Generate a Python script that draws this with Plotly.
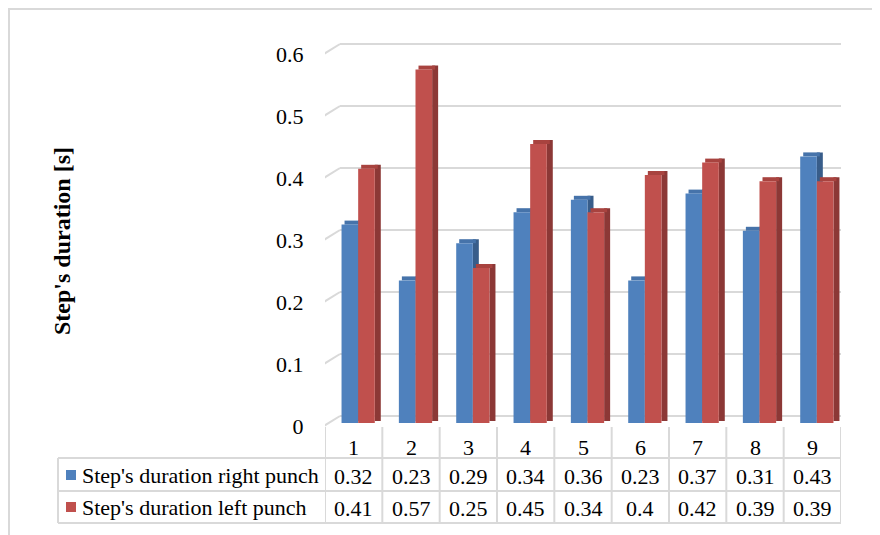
import plotly.graph_objects as go

# ---------------- data ----------------
categories = [1, 2, 3, 4, 5, 6, 7, 8, 9]
right_punch = [0.32, 0.23, 0.29, 0.34, 0.36, 0.23, 0.37, 0.31, 0.43]
left_punch = [0.41, 0.57, 0.25, 0.45, 0.34, 0.40, 0.42, 0.39, 0.39]
right_text = ["0.32", "0.23", "0.29", "0.34", "0.36", "0.23", "0.37", "0.31", "0.43"]
left_text = ["0.41", "0.57", "0.25", "0.45", "0.34", "0.4", "0.42", "0.39", "0.39"]
series_names = ["Step's duration right punch", "Step's duration left punch"]
y_ticks = [0, 0.1, 0.2, 0.3, 0.4, 0.5, 0.6]
y_ticktext = ["0", "0.1", "0.2", "0.3", "0.4", "0.5", "0.6"]
y_title = "Step's duration [s]"

# ---------------- style ----------------
W_PX, H_PX = 880, 535
PAGE_OFF = 8  # the page body margin shifts the figure by 8px
FONT = "Liberation Serif, Times New Roman, serif"
FS = 22
GRID = "#D9D9D9"
BLUE, BLUE_SIDE, BLUE_TOP = "#4F81BD", "#385D8A", "#4673AA"
RED, RED_SIDE, RED_TOP = "#C0504D", "#8C3836", "#A8433F"


def X(px):
    return (px - PAGE_OFF) / W_PX


def Y(py):
    return 1 - (py - PAGE_OFF) / H_PX


# plot geometry (window pixels)
x_left, x_right = 325, 841          # front plane of the category axis
y_zero, y_top, y_bot = 426, 20, 440  # front plane zero, domain top/bottom
PX_PER_UNIT = 620.0
PX_PER_CAT = (x_right - x_left) / len(categories)

y_range = [-(y_bot - y_zero) / PX_PER_UNIT, (y_zero - y_top) / PX_PER_UNIT]

# depth of the 3-D box (back wall offset) in data units
DX = 15 / PX_PER_CAT
DY = 10 / PX_PER_UNIT
FR = 0.3                 # bars sit 30% into the depth
BW = 0.29                # bar width (category units)
SDX = 6 / PX_PER_CAT     # bar depth (side face) in x
SDY = 4 / PX_PER_UNIT    # bar depth (top face) in y

base = FR * DY
center_shift = FR * DX
off_blue = center_shift - BW
off_red = center_shift

fig = go.Figure()


def add_series(vals, off, front, side, top, name):
    n = len(vals)
    # side face
    fig.add_trace(go.Bar(
        x=categories, y=[v + SDY * 0.5 for v in vals], base=[base + SDY * 0.5] * n,
        width=SDX, offset=off + BW, marker=dict(color=side, line=dict(width=0)),
        showlegend=False, hoverinfo="skip"))
    # top face
    fig.add_trace(go.Bar(
        x=categories, y=[SDY] * n, base=[base + v for v in vals],
        width=BW, offset=off + SDX * 0.5, marker=dict(color=top, line=dict(width=0)),
        showlegend=False, hoverinfo="skip"))
    # front face
    fig.add_trace(go.Bar(
        x=categories, y=vals, base=[base] * n, width=BW, offset=off,
        marker=dict(color=front, line=dict(width=0)), name=name, showlegend=False))


add_series(right_punch, off_blue, BLUE, BLUE_SIDE, BLUE_TOP, series_names[0])
add_series(left_punch, off_red, RED, RED_SIDE, RED_TOP, series_names[1])

shapes = []
# outer frame
shapes.append(dict(type="rect", xref="paper", yref="paper", x0=X(9), x1=X(900),
                   y0=Y(560), y1=Y(9), line=dict(color=GRID, width=2),
                   fillcolor="rgba(0,0,0,0)", layer="below"))
# back-wall gridlines and their diagonals
x0c, x1c = categories[0] - 0.5, categories[-1] + 0.5
for t in y_ticks:
    shapes.append(dict(type="line", xref="x", yref="y", x0=x0c + DX, x1=x1c + DX,
                       y0=t + DY, y1=t + DY, line=dict(color=GRID, width=2), layer="below"))
    shapes.append(dict(type="line", xref="x", yref="y", x0=x0c - 0.02, x1=x0c + DX,
                       y0=t, y1=t + DY, line=dict(color=GRID, width=2), layer="below"))

# data table
row_top, row1, row2, row_bot = 427, 458, 491, 523
tbl_left = 58
for k in range(len(categories) + 1):
    xv = x0c + k
    shapes.append(dict(type="line", xref="x", yref="paper", x0=xv, x1=xv,
                       y0=Y(row_top), y1=Y(row_bot), line=dict(color=GRID, width=2)))
for yy in (row1, row2, row_bot):
    shapes.append(dict(type="line", xref="paper", yref="paper", x0=X(tbl_left),
                       x1=X(x_right), y0=Y(yy), y1=Y(yy), line=dict(color=GRID, width=2)))
shapes.append(dict(type="line", xref="paper", yref="paper", x0=X(tbl_left), x1=X(tbl_left),
                   y0=Y(row1), y1=Y(row_bot), line=dict(color=GRID, width=2)))
# legend keys
for (ya, yb), col in (((470, 480), BLUE), ((502, 512), RED)):
    shapes.append(dict(type="rect", xref="paper", yref="paper", x0=X(66), x1=X(76),
                       y0=Y(yb), y1=Y(ya), fillcolor=col, line=dict(width=0)))

ann = []
tf = dict(family=FONT, size=FS, color="#000000")
for i, c in enumerate(categories):
    ann.append(dict(x=c, y=Y(447), xref="x", yref="paper", text=str(c), showarrow=False,
                    font=tf, xanchor="center", yanchor="middle"))
    ann.append(dict(x=c, y=Y(476), xref="x", yref="paper", text=right_text[i],
                    showarrow=False, font=tf, xanchor="center", yanchor="middle"))
    ann.append(dict(x=c, y=Y(508), xref="x", yref="paper", text=left_text[i],
                    showarrow=False, font=tf, xanchor="center", yanchor="middle"))
ann.append(dict(x=X(80), y=Y(475), xref="paper", yref="paper", text=series_names[0],
                showarrow=False, font=tf, xanchor="left", yanchor="middle"))
ann.append(dict(x=X(80), y=Y(507), xref="paper", yref="paper", text=series_names[1],
                showarrow=False, font=tf, xanchor="left", yanchor="middle"))
ann.append(dict(x=X(62), y=Y(241), xref="paper", yref="paper", text="<b>" + y_title + "</b>",
                showarrow=False, textangle=-90,
                font=dict(family=FONT, size=24, color="#000000"),
                xanchor="center", yanchor="middle"))

fig.update_layout(
    width=W_PX, height=H_PX,
    margin=dict(l=0, r=0, t=0, b=0),
    paper_bgcolor="white", plot_bgcolor="rgba(0,0,0,0)",
    barmode="overlay", showlegend=False,
    xaxis=dict(domain=[X(x_left), X(x_right)], range=[x0c, x1c], visible=False,
               fixedrange=True),
    yaxis=dict(domain=[Y(y_bot), Y(y_top)], range=y_range, tickvals=y_ticks,
               ticktext=y_ticktext, showgrid=False, zeroline=False, showline=False,
               ticks="outside", ticklen=16, tickcolor="rgba(0,0,0,0)",
               tickfont=dict(family=FONT, size=FS, color="#000000"), fixedrange=True),
    shapes=shapes, annotations=ann,
)

fig.write_html("out.html")
